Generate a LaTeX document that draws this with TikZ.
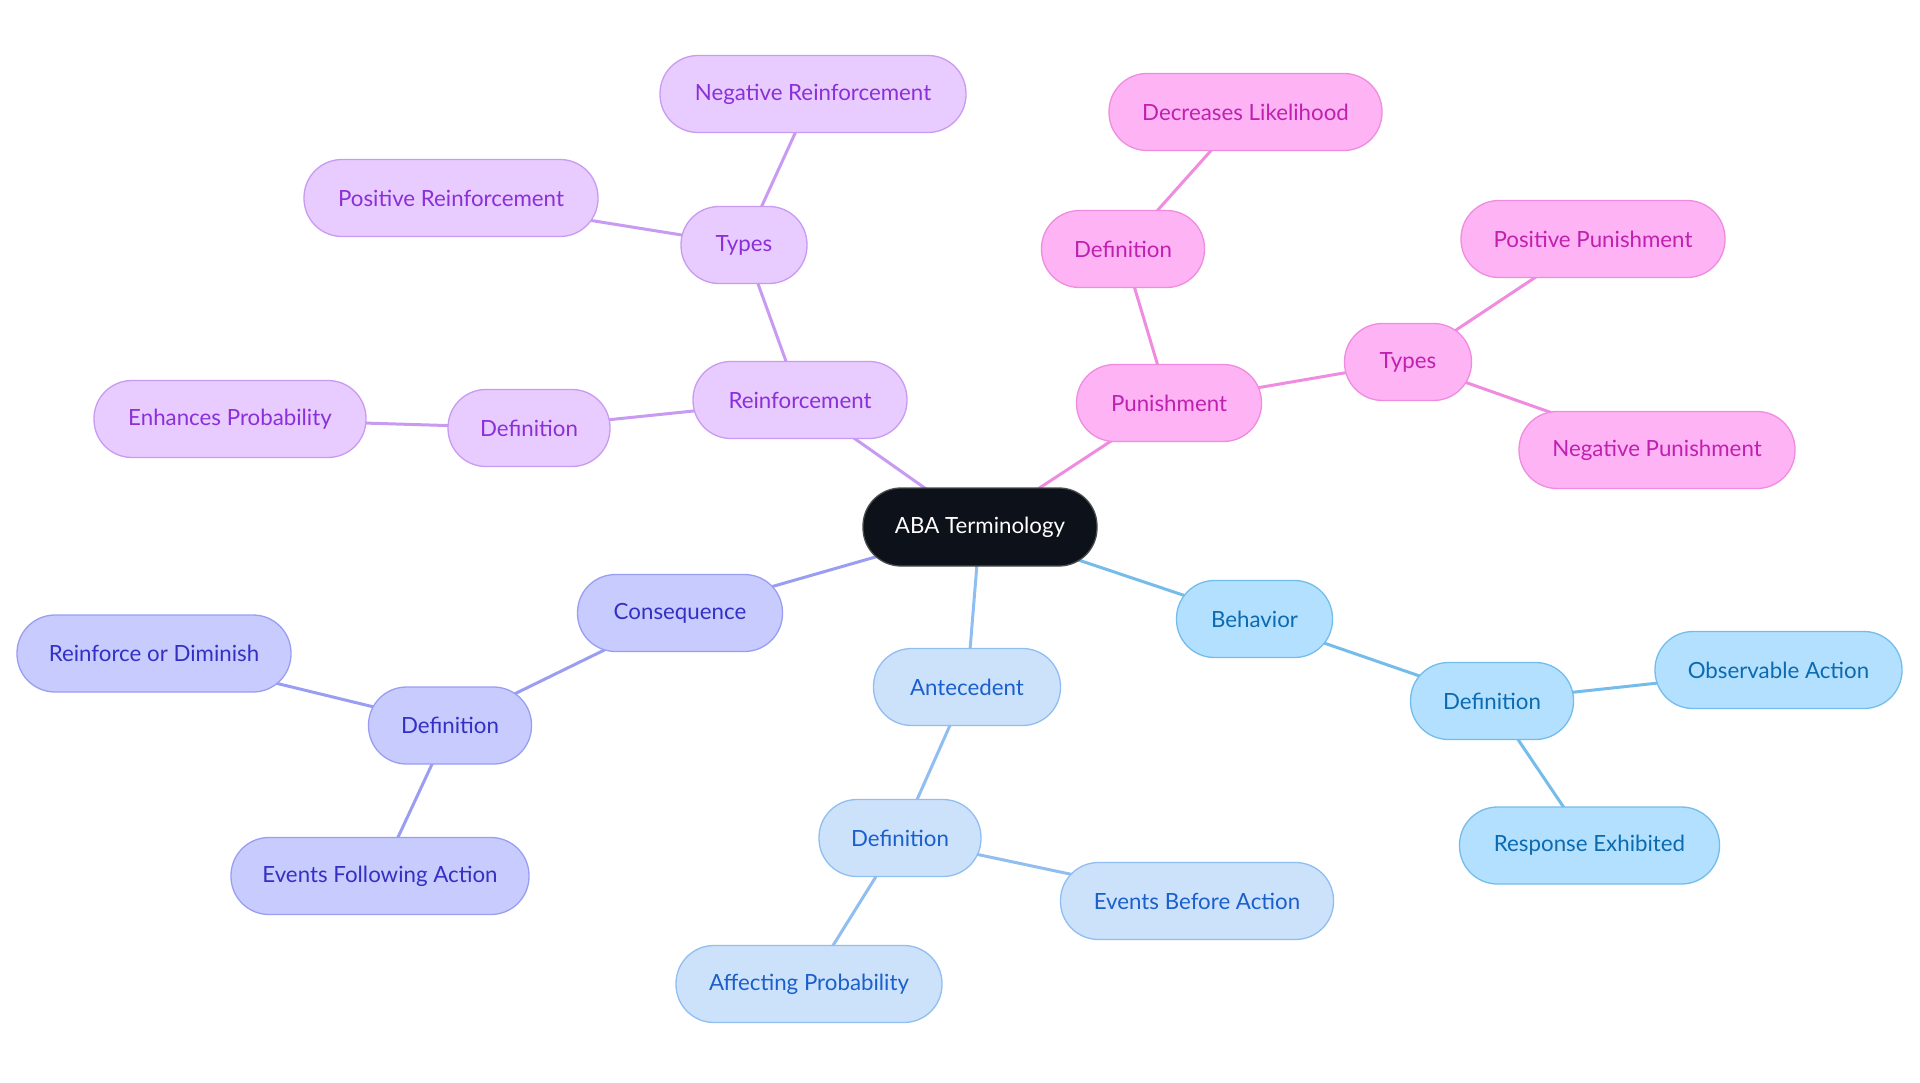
\documentclass[tikz,border=0pt]{standalone}
\usepackage{fontspec}
\setmainfont{Lato}
\usetikzlibrary{backgrounds}
\definecolor{pfill}{HTML}{E8CCFF}\definecolor{pline}{HTML}{C99AF2}\definecolor{ptext}{HTML}{8B2FD9}
\definecolor{kfill}{HTML}{FEB3F5}\definecolor{kline}{HTML}{F08CE0}\definecolor{ktext}{HTML}{C020B0}
\definecolor{bfill}{HTML}{B3E0FF}\definecolor{bline}{HTML}{74BDEB}\definecolor{btext}{HTML}{0B6AB0}
\definecolor{lfill}{HTML}{CCE2FB}\definecolor{lline}{HTML}{90BEF0}\definecolor{ltext}{HTML}{1A5FCC}
\definecolor{ifill}{HTML}{C8CBFD}\definecolor{iline}{HTML}{9A9EF2}\definecolor{itext}{HTML}{3530C4}
\definecolor{dfill}{HTML}{0C111A}
\begin{document}
\begin{tikzpicture}[x=1pt,y=-1pt,
  base/.style={rectangle, rounded corners=38pt, minimum height=77pt, inner sep=0pt, line width=1.3pt,
    font=\fontsize{22.3}{26}\selectfont, align=center},
  pnode/.style={base, fill=pfill, draw=pline, text=ptext},
  knode/.style={base, fill=kfill, draw=kline, text=ktext},
  bnode/.style={base, fill=bfill, draw=bline, text=btext},
  lnode/.style={base, fill=lfill, draw=lline, text=ltext},
  inode/.style={base, fill=ifill, draw=iline, text=itext},
  rootnode/.style={base, fill=dfill, draw=gray!60!black, text=white, minimum height=78pt},
  pedge/.style={draw=pline, line width=3pt},
  kedge/.style={draw=kline, line width=3pt},
  bedge/.style={draw=bline, line width=3pt},
  ledge/.style={draw=lline, line width=3pt},
  iedge/.style={draw=iline, line width=3pt}]
\useasboundingbox (0,0) rectangle (1920,1083);
\node[rootnode, minimum width=234pt] (root) at (980,527) {ABA Terminology};
% Reinforcement
\node[pnode, minimum width=214pt] (reinf) at (800,400) {Reinforcement};
\node[pnode, minimum width=126pt] (ptypes) at (744,245) {Types};
\node[pnode, minimum width=306pt] (negreinf) at (813,94) {Negative Reinforcement};
\node[pnode, minimum width=294pt] (posreinf) at (451,198) {Positive Reinforcement};
\node[pnode, minimum width=162pt] (pdef) at (529,428) {Definition};
\node[pnode, minimum width=272pt] (enh) at (230,419) {Enhances Probability};
% Punishment
\node[knode, minimum width=185pt] (pun) at (1169,403) {Punishment};
\node[knode, minimum width=163pt] (kdef) at (1123,249) {Definition};
\node[knode, minimum width=273pt] (decr) at (1245.5,112) {Decreases Likelihood};
\node[knode, minimum width=127pt] (ktypes) at (1408,362) {Types};
\node[knode, minimum width=264pt] (pospun) at (1593,239) {Positive Punishment};
\node[knode, minimum width=276pt] (negpun) at (1657,450) {Negative Punishment};
% Behavior
\node[bnode, minimum width=156pt] (beh) at (1254.5,619) {Behavior};
\node[bnode, minimum width=163pt] (bdef) at (1492,701) {Definition};
\node[bnode, minimum width=247pt] (obs) at (1778.5,670) {Observable Action};
\node[bnode, minimum width=260pt] (resp) at (1589.5,845.5) {Response Exhibited};
% Antecedent
\node[lnode, minimum width=187pt] (ante) at (967,687) {Antecedent};
\node[lnode, minimum width=162pt] (ldef) at (900,838) {Definition};
\node[lnode, minimum width=273pt] (evb) at (1197,901) {Events Before Action};
\node[lnode, minimum width=266pt] (aff) at (809,984) {Affecting Probability};
% Consequence
\node[inode, minimum width=205pt] (cons) at (680,613) {Consequence};
\node[inode, minimum width=163pt] (idef) at (450,725.5) {Definition};
\node[inode, minimum width=274pt] (rod) at (154,653.5) {Reinforce or Diminish};
\node[inode, minimum width=298pt] (evf) at (380,876) {Events Following Action};
\begin{scope}[on background layer]
\fill[white] (0,0) rectangle (1920,1083);
\path[pedge] (root.center) -- (reinf.center);
\path[pedge] (reinf.center) -- (ptypes.center);
\path[pedge] (ptypes.center) -- (negreinf.center);
\path[pedge] (ptypes.center) -- (posreinf.center);
\path[pedge] (reinf.center) -- (pdef.center);
\path[pedge] (pdef.center) -- (enh.center);
\path[kedge] (root.center) -- (pun.center);
\path[kedge] (pun.center) -- (kdef.center);
\path[kedge] (kdef.center) -- (decr.center);
\path[kedge] (pun.center) -- (ktypes.center);
\path[kedge] (ktypes.center) -- (pospun.center);
\path[kedge] (ktypes.center) -- (negpun.center);
\path[bedge] (root.center) -- (beh.center);
\path[bedge] (beh.center) -- (bdef.center);
\path[bedge] (bdef.center) -- (obs.center);
\path[bedge] (bdef.center) -- (resp.center);
\path[ledge] (root.center) -- (ante.center);
\path[ledge] (ante.center) -- (ldef.center);
\path[ledge] (ldef.center) -- (evb.center);
\path[ledge] (ldef.center) -- (aff.center);
\path[iedge] (root.center) -- (cons.center);
\path[iedge] (cons.center) -- (idef.center);
\path[iedge] (idef.center) -- (rod.center);
\path[iedge] (idef.center) -- (evf.center);
\end{scope}
\end{tikzpicture}
\end{document}
